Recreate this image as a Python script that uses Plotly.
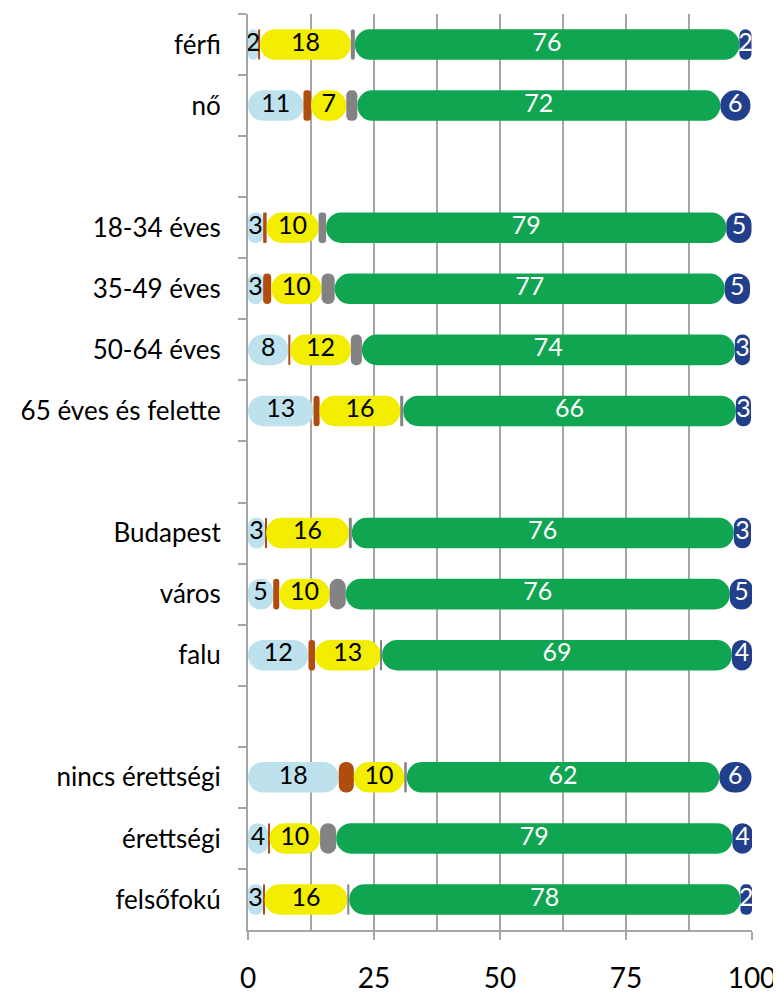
import plotly.graph_objects as go

categories = ["férfi", "nő", " ", "18-34 éves", "35-49 éves", "50-64 éves",
              "65 éves és felette", "  ", "Budapest", "város", "falu", "   ",
              "nincs érettségi", "érettségi", "felsőfokú"]

light_blue = [2.0, 11, None, 3, 3, 8, 13, None, 3.4, 5, 12, None, 18, 4, 3]
brown      = [0.4, 1.5, None, 0.7, 1.6, 0.4, 1.2, None, 0.2, 1.2, 1.3, None, 3, 0.3, 0.3]
yellow     = [18, 7, None, 10.3, 10, 12, 16, None, 16.4, 10, 13, None, 10, 10, 16.4]
gray       = [0.8, 2.2, None, 1.5, 2.6, 2.2, 0.6, None, 0.6, 3.2, 0.3, None, 0.5, 3.2, 0.4]
green      = [76.3, 72, None, 79.4, 77.4, 74, 66, None, 75.8, 76.2, 69.4, None, 62, 78.6, 77.6]
dark_blue  = [2.4, 6, None, 5, 5, 3, 3, None, 3.4, 4.6, 4, None, 6.4, 4, 2.3]

series = [
    ("light_blue", light_blue, "#bde2ee", "black", True),
    ("brown", brown, "#b04c0c", "black", False),
    ("yellow", yellow, "#f3ee00", "black", True),
    ("gray", gray, "#838383", "black", False),
    ("green", green, "#10a550", "white", True),
    ("dark_blue", dark_blue, "#223f8b", "white", True),
]

fig = go.Figure()
base = [0.0 if v is not None else None for v in light_blue]
label_traces = []
for name, vals, color, tcol, show in series:
    fig.add_trace(go.Bar(
        y=categories, x=vals, base=base, orientation="h", name=name,
        marker=dict(color=color, cornerradius=15, line=dict(width=0)),
        textposition="none", hoverinfo="skip", showlegend=False,
    ))
    if show:
        xs, ys, ts = [], [], []
        for c, b, v in zip(categories, base, vals):
            if v is None:
                continue
            xs.append(b + v / 2)
            ys.append(c)
            ts.append(f"{v:.0f}")
        label_traces.append(go.Scatter(
            x=xs, y=ys, text=ts, mode="text", textposition="middle center",
            textfont=dict(family="Lato", size=25, color=tcol),
            hoverinfo="skip", showlegend=False, cliponaxis=False,
        ))
    base = [(b + v) if (b is not None and v is not None) else None for b, v in zip(base, vals)]

for t in label_traces:
    fig.add_trace(t)

fig.update_layout(
    width=773, height=991,
    margin=dict(l=240, r=29, t=6, b=69),
    barmode="overlay", bargap=0.5,
    plot_bgcolor="white", paper_bgcolor="white",
    font=dict(family="Lato", color="black"),
)
fig.update_xaxes(
    range=[0, 100], tickvals=[0, 25, 50, 75, 100], automargin=False,
    showgrid=True, gridcolor="#a6a6a6", gridwidth=2,
    minor=dict(dtick=12.5, showgrid=True, gridcolor="#a6a6a6", gridwidth=2),
    showline=True, linecolor="#a6a6a6", linewidth=2,
    ticks="outside", ticklen=8, tickcolor="#a6a6a6", tickwidth=1.5,
    tickfont=dict(size=28, family="Lato"), ticklabelstandoff=14,
    zeroline=False,
)
fig.update_yaxes(
    range=[len(categories) - 0.5, -0.5], type="category", automargin=False,
    showline=True, linecolor="#a6a6a6", linewidth=2,
    ticks="outside", tickson="boundaries", ticklen=8, tickcolor="#a6a6a6", tickwidth=1.5,
    tickfont=dict(size=26, family="Lato"), ticklabelstandoff=20,
    showgrid=False,
)
fig.write_html("out.html")
